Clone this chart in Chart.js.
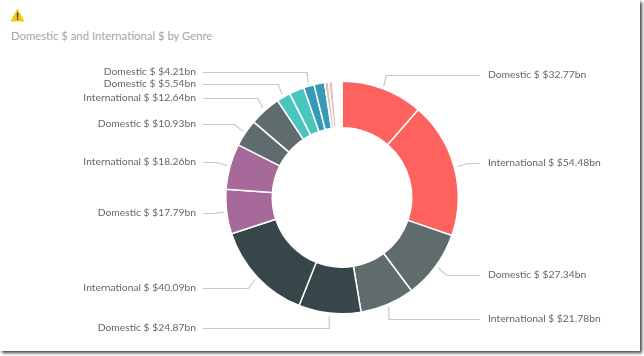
<!DOCTYPE html>
<html>
<head>
<meta charset="utf-8">
<script src="https://cdn.jsdelivr.net/npm/chart.js@4/dist/chart.umd.min.js"></script>
<style>
    html, body { margin: 0; padding: 0; background: #fff; overflow: hidden; }
    #wrap { position: relative; width: 644px; height: 356px; }
    #frame { position: absolute; left: 0; top: 0; width: 640px; height: 351px; background: #fff;
             box-shadow: 2px 2px 3px #444; }
    #icon { position: absolute; left: 10px; top: 8px; }
    #title { position: absolute; left: 11px; top: 29px; font: 11.3px Lato, sans-serif; color: #a6a6a6; }
    #c { position: absolute; left: 0; top: 0; }
</style>
</head>
<body>
<div id="wrap">
    <div id="frame"></div>
    <svg id="icon" width="15" height="14" viewBox="0 0 15 14">
        <path d="M7.5 0.5 L14.5 13.5 L0.5 13.5 Z" fill="#f2c811"/>
        <rect x="6.9" y="4.5" width="1.3" height="5" fill="#333"/>
        <rect x="6.9" y="10.3" width="1.3" height="1.5" fill="#333"/>
    </svg>
    <div id="title">Domestic $ and International $ by Genre</div>
    <canvas id="c" width="644" height="356"></canvas>
</div>
<script>
const seriesNames = ['Domestic $', 'International $', 'Domestic $', 'International $', 'Domestic $', 'International $',
    'Domestic $', 'International $', 'Domestic $', 'International $', 'Domestic $', 'International $',
    'Domestic $', 'International $', 'Domestic $', 'International $', 'Domestic $'];
const values = [32.77, 54.48, 27.34, 21.78, 24.87, 40.09, 17.79, 18.26, 10.93, 12.64, 5.54, 6.0, 4.21, 4.24, 1.6, 1.6, 3.7];
const colors = ['#fd625e', '#fd625e', '#5f6b6d', '#5f6b6d', '#374649', '#374649', '#a66999', '#a66999',
    '#5f6b6d', '#5f6b6d', '#4ac5bb', '#4ac5bb', '#3599b8', '#3599b8', '#dfbfbf', '#dfbfbf', '#ffffff'];
const valueLabels = ['$32.77bn', '$54.48bn', '$27.34bn', '$21.78bn', '$24.87bn', '$40.09bn', '$17.79bn', '$18.26bn',
    '$10.93bn', '$12.64bn', '$5.54bn', null, '$4.21bn', null, null, null, null];
const labelY = [75, 163, 275, 319, 328, 288, 213, 162, 124, 98, 84, null, 72, null, null, null, null];

const leaderLines = {
    id: 'leaderLines',
    afterDatasetsDraw(chart) {
        const ctx = chart.ctx;
        const arcs = chart.getDatasetMeta(0).data;
        ctx.save();
        ctx.font = '10.3px Lato, sans-serif';
        ctx.textBaseline = 'middle';
        arcs.forEach(function(arc, i) {
            if (!valueLabels[i]) return;
            const mid = (arc.startAngle + arc.endAngle) / 2;
            const x0 = arc.x + Math.cos(mid) * (arc.outerRadius + 3);
            const y0 = arc.y + Math.sin(mid) * (arc.outerRadius + 3);
            const right = Math.cos(mid) > 0;
            const y = labelY[i];
            // elbows sit on a circle a bit outside the ring, at the label's height
            const dy = y - arc.y;
            const elbowR = arc.outerRadius + 14;
            let elbow = x0;
            if (Math.abs(dy) < elbowR) {
                elbow = arc.x + (right ? 1 : -1) * Math.sqrt(elbowR * elbowR - dy * dy);
            }
            const endX = right ? 480 : 203;
            ctx.strokeStyle = '#c8c8c8';
            ctx.lineWidth = 1.2;
            ctx.beginPath();
            ctx.moveTo(x0, y0);
            ctx.lineTo(elbow, y + 0.5);
            ctx.lineTo(endX, y + 0.5);
            ctx.stroke();
            ctx.fillStyle = '#666';
            const text = seriesNames[i] + ' ' + valueLabels[i];
            ctx.textAlign = right ? 'left' : 'right';
            ctx.fillText(text, right ? 488 : 196, y);
        });
        ctx.restore();
    }
};

new Chart(document.getElementById('c'), {
    type: 'doughnut',
    data: {
        labels: seriesNames,
        datasets: [{
            data: values,
            backgroundColor: colors,
            borderColor: '#fff',
            borderWidth: 1.5
        }]
    },
    options: {
        responsive: false,
        animation: false,
        cutout: '60%',
        layout: { padding: { left: 225, right: 185, top: 80, bottom: 41 } },
        plugins: { legend: { display: false }, tooltip: { enabled: false } }
    },
    plugins: [leaderLines]
});
</script>
</body>
</html>
